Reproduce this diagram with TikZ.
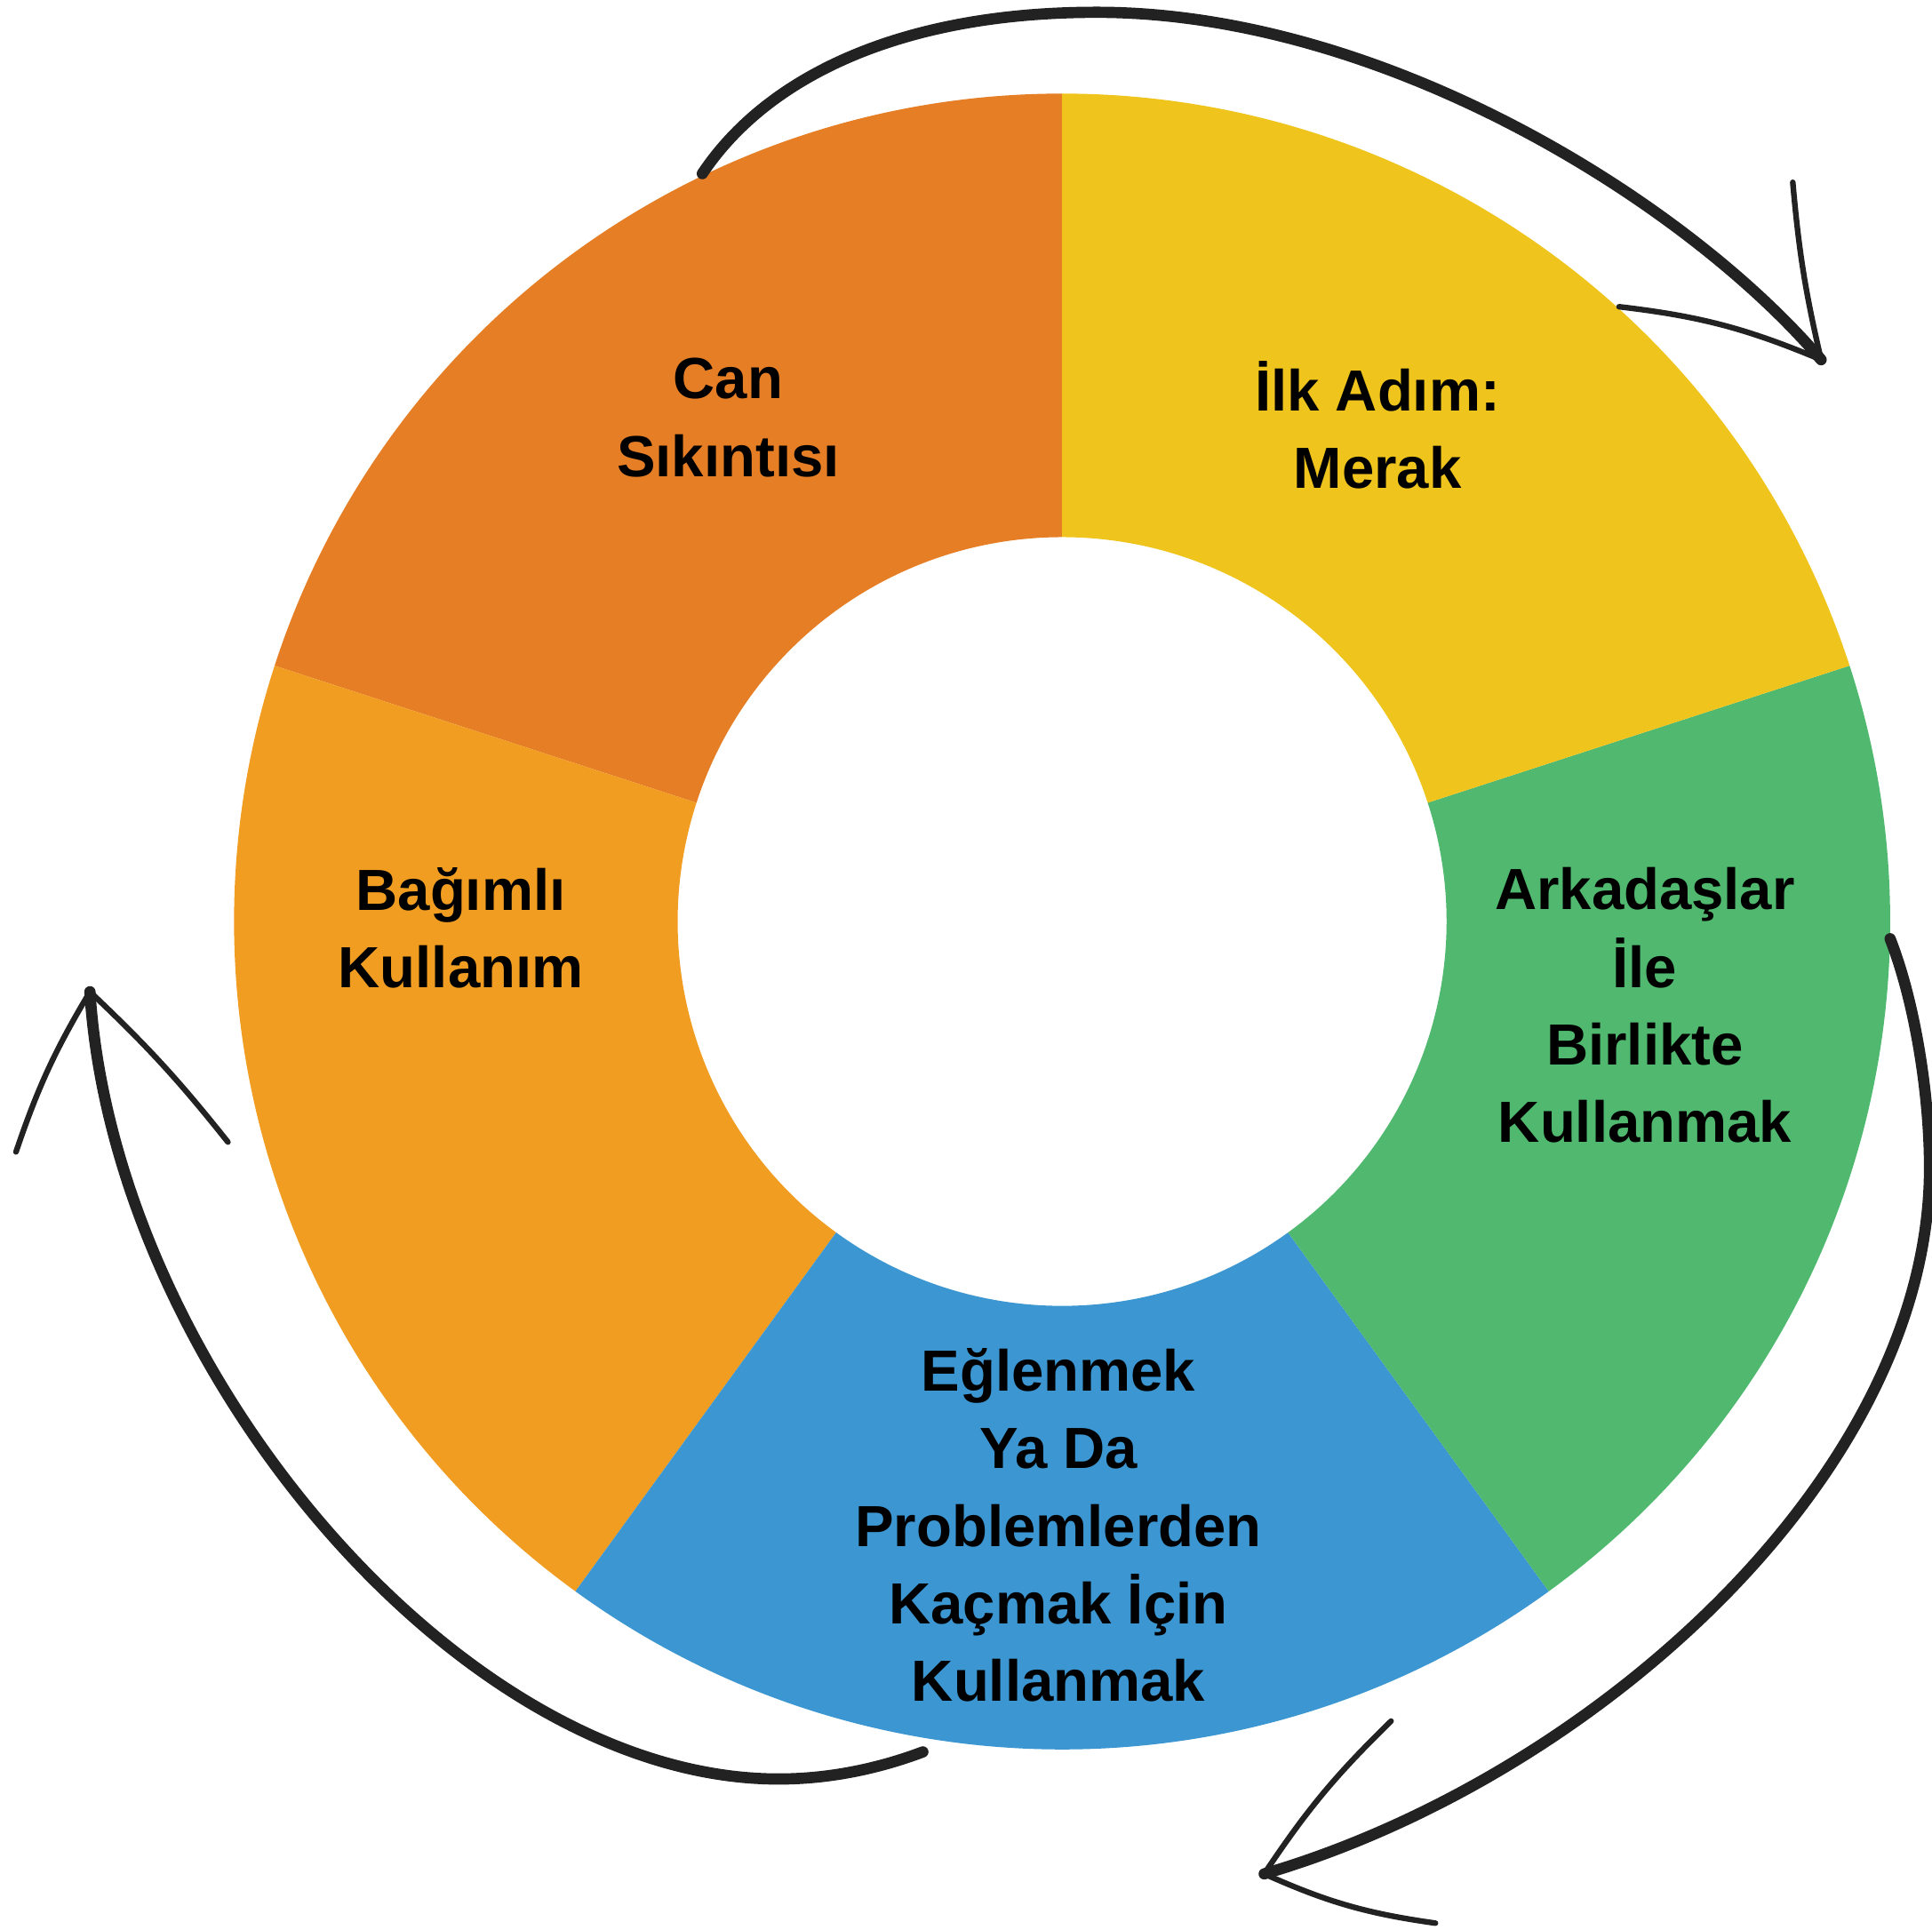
\documentclass[tikz,border=0pt]{standalone}
\usepackage{fontspec}
\setmainfont{Liberation Sans}
\definecolor{koyuturuncu}{HTML}{E57E25}
\definecolor{turuncu}{HTML}{F09D22}
\definecolor{mavi}{HTML}{3C96D1}
\definecolor{yesil}{HTML}{50B96F}
\definecolor{sari}{HTML}{EFC41C}
\definecolor{kalem}{HTML}{222222}
\tikzset{
  etiket/.style={align=center, font=\fontsize{13.4}{17.9}\selectfont\bfseries, text=black, inner sep=0pt},
  kalemcizgi/.style={draw=kalem, line width=2.6pt, line cap=round, line join=round},
  kanat/.style={kalemcizgi, line width=1.3pt},
}
\begin{document}
\begin{tikzpicture}
\useasboundingbox (-8.62,-8.18) rectangle (7.06,7.48);

% halka dilimleri
\foreach \a/\renk in {90/koyuturuncu, 162/turuncu, 234/mavi, 306/yesil, 18/sari}
  \fill[\renk] (\a:6.72) arc[start angle=\a, end angle=\a+72, radius=6.72cm]
    -- (\a+72:3.12) arc[start angle=\a+72, end angle=\a, radius=3.12cm] -- cycle;

\node[etiket] (can) at (-2.71,4.09) {Can\\Sıkıntısı};
\node[etiket] (ilk) at (2.56,4.03) {İlk Adım:\\Merak};
\node[etiket] (arkadas) at (4.73,-0.68) {Arkadaşlar\\İle\\Birlikte\\Kullanmak};
\node[etiket] (eglen) at (-0.03,-4.90) {Eğlenmek\\Ya Da\\Problemlerden\\Kaçmak İçin\\Kullanmak};
\node[etiket] (bagimli) at (-4.88,-0.05) {Bağımlı\\Kullanım};

% ust ok
\coordinate (kuyrukA) at (-2.92,6.07);
\coordinate (tepeA) at (0.28,7.38);
\coordinate (ucA) at (6.16,4.56);
\draw[kalemcizgi] (kuyrukA) .. controls (-2.4,6.85) and (-1.32,7.38) .. (tepeA)
  .. controls (2.6,7.38) and (5.06,5.85) .. (ucA);
\draw[kanat] (5.93,6.00) to[bend right=4] (ucA);
\draw[kanat] (4.52,4.99) to[bend left=8] (ucA);

% sag ok
\coordinate (kuyrukB) at (6.72,-0.14);
\coordinate (yanB) at (7.04,-2.0);
\coordinate (ucB) at (1.64,-7.73);
\draw[kalemcizgi] (kuyrukB) .. controls (6.92,-0.65) and (7.04,-1.4) .. (yanB)
  .. controls (7.04,-4.5) and (4.3,-6.95) .. (ucB);
\draw[kanat] (2.67,-6.49) to[bend right=6] (ucB);
\draw[kanat] (3.03,-8.13) to[bend left=8] (ucB);

% sol ok
\coordinate (kuyrukC) at (-1.13,-6.74);
\coordinate (dipC) at (-2.3,-6.96);
\coordinate (ucC) at (-7.89,-0.57);
\draw[kalemcizgi] (kuyrukC) .. controls (-1.5,-6.88) and (-1.9,-6.96) .. (dipC)
  .. controls (-4.9,-6.96) and (-7.7,-3.6) .. (ucC);
\draw[kanat] (-8.49,-1.87) to[bend left=6] (ucC);
\draw[kanat] (-6.77,-1.79) to[bend right=4] (ucC);
\end{tikzpicture}
\end{document}
